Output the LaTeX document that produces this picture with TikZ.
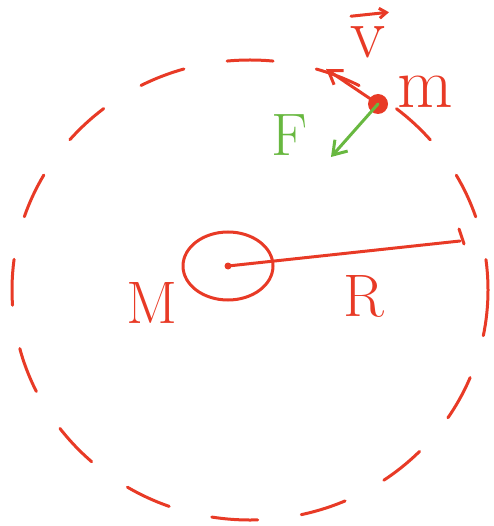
\documentclass[tikz,border=0pt]{standalone}
\usepackage{tikz}
\usetikzlibrary{arrows.meta}
\definecolor{ink}{RGB}{232,58,38}
\definecolor{pull}{RGB}{104,184,64}

\begin{document}
\begin{tikzpicture}[x=1pt,y=-1pt,
  every node/.style={inner sep=0pt,outer sep=0pt,text=ink},
  lb/.style={font=\fontsize{60}{60}\selectfont},
  lw/.style={font=\fontsize{72}{72}\selectfont},
  pen/.style={draw=ink,line width=3pt,line cap=round},
  orbit/.style={pen,dash pattern=on 46pt off 44pt},
  vec/.style={pen,-{Straight Barb[length=4.5mm,width=6mm]}},
  force/.style={vec,draw=pull},
  hat/.style={pen,-{Straight Barb[length=2.5mm,width=3.5mm]}}]
\useasboundingbox (0,0) rectangle (493,526);

% ---- orbit ---------------------------------------------------------------
\draw[orbit] (250,290) ellipse [x radius=238,y radius=230];

% ---- central body --------------------------------------------------------
\coordinate (ctr) at (228,266);
\draw[pen] (ctr) ellipse [x radius=45,y radius=34];
\fill[ink] (ctr) circle (3.5pt);
\node[lb] (mM) at (152,303) {M};

% ---- radius --------------------------------------------------------------
\coordinate (rim) at (460,241);
\draw[pen] (ctr) -- (rim);
\draw[pen] (rim) ++(-1,-12) -- ++(5,15);
\node[lb] (rR) at (364,296) {R};

% ---- satellite -----------------------------------------------------------
\node[circle,fill=ink,minimum size=20pt] (sat) at (378,104) {};
\node[lw] (sm) at (425,92) {m};
\coordinate (vtip) at (326,69);
\coordinate (ftip) at (331,157);
\draw[vec] (sat.center) -- (vtip);
\draw[force] (sat.center) -- (ftip);
\node[lw] (sv) at (368,42) {v};
\draw[hat] ([xshift=-17pt,yshift=10pt]sv.north) -- ([xshift=21pt,yshift=14pt]sv.north);
\node[lb,text=pull] (sF) at (290,135) {F};
\end{tikzpicture}
\end{document}
